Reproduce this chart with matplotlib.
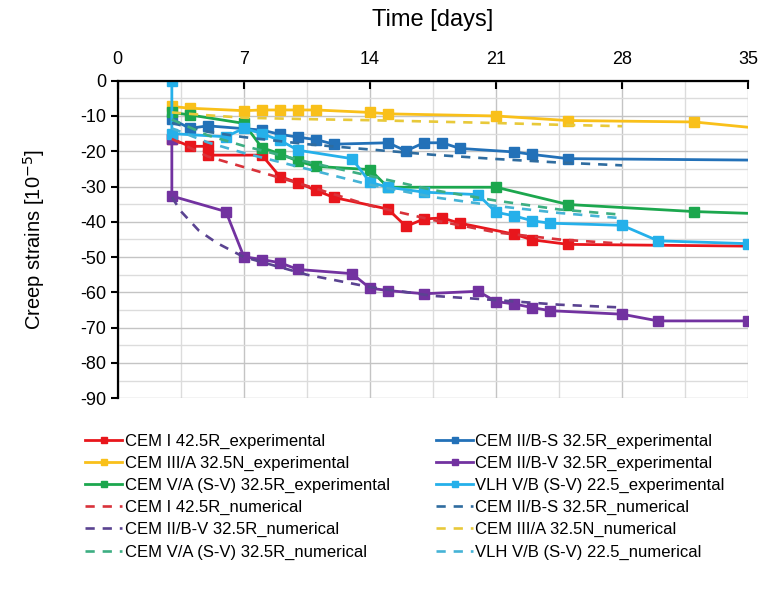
import matplotlib
matplotlib.use("Agg")
import matplotlib.pyplot as plt
from matplotlib.ticker import MultipleLocator

plt.rcParams["font.family"] = ["Liberation Sans", "DejaVu Sans"]
plt.rcParams["axes.unicode_minus"] = False

# experimental series (days, creep strain 1e-5)
cem1_exp_t = [3, 4, 5, 5, 8, 9, 10, 11, 12, 15, 16, 17, 18, 19, 22, 23, 25, 35]
cem1_exp_y = [-16.5, -18.6, -18.6, -21.1, -21.1, -27.2, -28.9, -31.1, -33.1, -36.4, -41.3,
              -39.2, -38.9, -40.4, -43.5, -45.1, -46.4, -46.9]
cem2bs_exp_t = [3, 4, 5, 8, 9, 10, 11, 12, 15, 16, 17, 18, 19, 22, 23, 25, 35]
cem2bs_exp_y = [-10.9, -13.5, -12.8, -14.0, -15.2, -16.0, -16.7, -18.0, -17.6, -19.9, -17.6,
                -17.6, -19.2, -20.2, -20.9, -22.1, -22.5]
cem3a_exp_t = [3, 4, 7, 8, 9, 10, 11, 14, 15, 21, 25, 32, 35]
cem3a_exp_y = [-7.3, -7.8, -8.5, -8.3, -8.3, -8.3, -8.3, -9.0, -9.4, -10.0, -11.3, -11.7, -13.2]
cem2bv_exp_t = [3, 3, 6, 7, 8, 9, 10, 13, 14, 15, 17, 20, 21, 22, 23, 24, 28, 30, 35]
cem2bv_exp_y = [-16.5, -32.7, -37.1, -49.9, -50.7, -51.6, -53.5, -54.7, -58.8, -59.5, -60.4,
                -59.7, -62.6, -63.3, -64.3, -65.2, -66.2, -68.1, -68.1]
cem5a_exp_t = [3, 4, 7, 8, 9, 10, 11, 14, 15, 21, 25, 32, 35]
cem5a_exp_y = [-9.0, -9.7, -12.1, -19.0, -20.7, -22.8, -24.3, -25.2, -30.2, -30.2, -35.1,
               -37.1, -37.6]
vlh_exp_t = [3, 3, 6, 7, 8, 9, 10, 13, 14, 15, 17, 20, 21, 22, 23, 24, 28, 30, 35]
vlh_exp_y = [0.0, -15.0, -15.9, -13.5, -15.0, -16.9, -19.7, -22.1, -28.8, -30.2, -31.6,
             -32.3, -37.3, -38.3, -39.7, -40.4, -41.0, -45.4, -46.2]

# numerical series
num_t = [3, 5, 7, 10.5, 14, 17.5, 21, 24.5, 28]
cem1_num_y = [-16.5, -21.5, -24.5, -29.8, -35.4, -39.5, -43.0, -45.0, -46.2]
cem2bs_num_y = [-12.0, -14.5, -16.0, -18.0, -19.5, -21.0, -22.2, -23.2, -24.0]
cem3a_num_y = [-9.0, -9.8, -10.5, -10.9, -11.2, -11.6, -12.0, -12.5, -12.9]
cem5a_num_y = [-11.0, -15.5, -18.5, -23.0, -27.0, -31.0, -34.0, -36.5, -38.0]
vlh_num_y = [-13.5, -17.5, -20.5, -25.0, -29.5, -33.0, -35.5, -37.5, -39.0]
cem2bv_num_t = [3, 3.5, 4.5, 5.5, 7, 10.5, 14, 17.5, 21, 24.5, 28]
cem2bv_num_y = [-33.0, -37.0, -42.5, -46.0, -50.0, -55.0, -58.5, -61.0, -62.2, -63.5, -64.3]

fig = plt.figure(figsize=(7.65, 5.89), dpi=100)
ax = fig.add_axes([0.154, 0.324, 0.824, 0.539])

exp_style = dict(linewidth=2.0, marker="s", markersize=6.5)
h_cem1, = ax.plot(cem1_exp_t, cem1_exp_y, color="#e8161c", markevery=list(range(len(cem1_exp_t) - 1)),
                  label="CEM I 42.5R_experimental", **exp_style)
h_cem2bs, = ax.plot(cem2bs_exp_t, cem2bs_exp_y, color="#2371b8", markevery=list(range(len(cem2bs_exp_t) - 1)),
                    label="CEM II/B-S 32.5R_experimental", **exp_style)
h_cem3a, = ax.plot(cem3a_exp_t, cem3a_exp_y, color="#f9c01a", markevery=list(range(len(cem3a_exp_t) - 1)),
                   label="CEM III/A 32.5N_experimental", **exp_style)
h_cem2bv, = ax.plot(cem2bv_exp_t, cem2bv_exp_y, color="#7232a0",
                    label="CEM II/B-V 32.5R_experimental", **exp_style)
h_cem5a, = ax.plot(cem5a_exp_t, cem5a_exp_y, color="#1ca74e", markevery=list(range(len(cem5a_exp_t) - 1)),
                   label="CEM V/A (S-V) 32.5R_experimental", **exp_style)
h_vlh, = ax.plot(vlh_exp_t, vlh_exp_y, color="#25b0ea",
                 label="VLH V/B (S-V) 22.5_experimental", **exp_style)

num_style = dict(linewidth=1.9, linestyle=(0, (3.5, 3)))
n_cem1, = ax.plot(num_t, cem1_num_y, color="#d9323a", label="CEM I 42.5R_numerical", **num_style)
n_cem2bs, = ax.plot(num_t, cem2bs_num_y, color="#2f6c9f", label="CEM II/B-S 32.5R_numerical", **num_style)
n_cem2bv, = ax.plot(cem2bv_num_t, cem2bv_num_y, color="#5a4391", label="CEM II/B-V 32.5R_numerical", **num_style)
n_cem3a, = ax.plot(num_t, cem3a_num_y, color="#e8c93a", label="CEM III/A 32.5N_numerical", **num_style)
n_cem5a, = ax.plot(num_t, cem5a_num_y, color="#3dae82", label="CEM V/A (S-V) 32.5R_numerical", **num_style)
n_vlh, = ax.plot(num_t, vlh_num_y, color="#45b3d6", label="VLH V/B (S-V) 22.5_numerical", **num_style)

ax.set_xlim(0, 35)
ax.set_ylim(-90, 0)
ax.xaxis.set_major_locator(MultipleLocator(7))
ax.xaxis.set_minor_locator(MultipleLocator(3.5))
ax.yaxis.set_major_locator(MultipleLocator(10))
ax.yaxis.set_minor_locator(MultipleLocator(5))
ax.xaxis.tick_top()
ax.xaxis.set_label_position("top")
ax.tick_params(axis="x", which="major", direction="in", length=6, width=1.5, labelsize=13, pad=9)
ax.tick_params(axis="x", which="minor", length=0)
ax.tick_params(axis="y", which="major", direction="out", length=5, width=1.5, labelsize=13)
ax.tick_params(axis="y", which="minor", length=0)
ax.grid(which="major", color="#c4c4c4", linewidth=1.0)
ax.grid(which="minor", color="#dcdcdc", linewidth=1.0)
ax.set_axisbelow(True)
for side in ["right", "bottom"]:
    ax.spines[side].set_visible(False)
for side in ["top", "left"]:
    ax.spines[side].set_linewidth(1.6)
ax.set_xlabel("Time [days]", fontsize=17, labelpad=18)
ax.set_ylabel("Creep strains [10$^{-5}$]", fontsize=14.5, labelpad=24)

# row-wise order in a two-column legend
handles = [h_cem1, h_cem3a, h_cem5a, n_cem1, n_cem2bv, n_cem5a,
           h_cem2bs, h_cem2bv, h_vlh, n_cem2bs, n_cem3a, n_vlh]
fig.legend(handles=handles, labels=[h.get_label() for h in handles], ncol=2,
           loc="upper left", bbox_to_anchor=(0.103, 0.275), frameon=False,
           fontsize=12, handlelength=2.2, handletextpad=0.15, columnspacing=2.8,
           labelspacing=0.42, markerscale=0.75, borderaxespad=0)

fig.savefig("out.png", dpi=100)
